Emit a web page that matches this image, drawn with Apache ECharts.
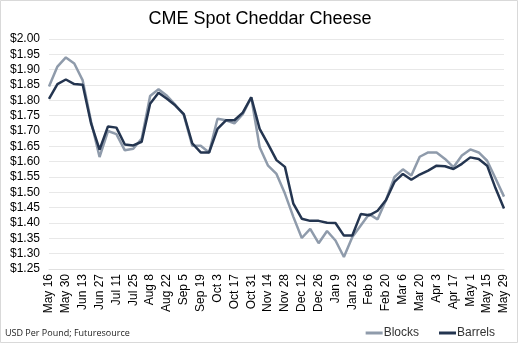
<!DOCTYPE html>
<html>
<head>
<meta charset="utf-8">
<script src="https://cdn.jsdelivr.net/npm/echarts@6/dist/echarts.min.js"></script>
<style>
  html, body { margin: 0; padding: 0; background: #fff; }
  #chartDiv { width: 520px; height: 346px; }
</style>
</head>
<body>
<div id="chartDiv"></div>
<script>
// weekly dates, May 16 .. May 29
var weeks = [
    "May 16", "May 23", "May 30", "Jun 6", "Jun 13", "Jun 20", "Jun 27", "Jul 4", "Jul 11", "Jul 18",
    "Jul 25", "Aug 1", "Aug 8", "Aug 15", "Aug 22", "Aug 29", "Sep 5", "Sep 12", "Sep 19", "Sep 26",
    "Oct 3", "Oct 10", "Oct 17", "Oct 24", "Oct 31", "Nov 7", "Nov 14", "Nov 21", "Nov 28", "Dec 5",
    "Dec 12", "Dec 19", "Dec 26", "Jan 2", "Jan 9", "Jan 16", "Jan 23", "Jan 30", "Feb 6", "Feb 13",
    "Feb 20", "Feb 27", "Mar 6", "Mar 13", "Mar 20", "Mar 27", "Apr 3", "Apr 10", "Apr 17", "Apr 24",
    "May 1", "May 8", "May 15", "May 22", "May 29"
];

var blocks = [
    1.845, 1.910, 1.940, 1.920, 1.865, 1.730, 1.615, 1.700, 1.690, 1.637,
    1.642, 1.675, 1.814, 1.836, 1.815, 1.785, 1.752, 1.652, 1.652, 1.630,
    1.740, 1.735, 1.725, 1.755, 1.810, 1.647, 1.587, 1.560, 1.496, 1.420,
    1.351, 1.381, 1.334, 1.374, 1.343, 1.289, 1.354, 1.392, 1.429, 1.412,
    1.475, 1.550, 1.575, 1.555, 1.616, 1.630, 1.630, 1.609, 1.582, 1.620,
    1.640, 1.630, 1.603, 1.545, 1.486
];

var barrels = [
    1.805, 1.853, 1.868, 1.853, 1.851, 1.724, 1.639, 1.715, 1.711, 1.656,
    1.653, 1.665, 1.789, 1.825, 1.805, 1.783, 1.755, 1.660, 1.630, 1.630,
    1.707, 1.735, 1.735, 1.760, 1.810, 1.707, 1.657, 1.605, 1.583, 1.463,
    1.414, 1.407, 1.407, 1.401, 1.400, 1.359, 1.359, 1.429, 1.425, 1.440,
    1.475, 1.534, 1.560, 1.541, 1.558, 1.571, 1.587, 1.585, 1.576, 1.593,
    1.614, 1.609, 1.587, 1.513, 1.447
];

var BLOCKS_COLOR = "#8f9bab";
var BARRELS_COLOR = "#243550";
var FONT = "Liberation Sans, Arial, sans-serif";

var chartDiv = echarts.init(document.getElementById("chartDiv"));

var option = {
    backgroundColor: "#fff",
    animation: false,
    title: {
        text: "CME Spot Cheddar Cheese",
        left: "center",
        top: 5,
        textStyle: { fontFamily: FONT, fontSize: 18, fontWeight: "normal", color: "#000" }
    },
    legend: {
        right: 20,
        bottom: 2,
        itemWidth: 17,
        itemHeight: 3,
        itemGap: 20,
        icon: "rect",
        textStyle: { fontFamily: FONT, fontSize: 12, color: "#333", padding: [0, 0, 0, -4] },
        data: ["Blocks", "Barrels"]
    },
    grid: { left: 49, right: 16, top: 39, bottom: 77 },
    graphic: [
        {
            type: "rect",
            shape: { x: 0.5, y: 0.5, width: 517, height: 342 },
            style: { fill: "none", stroke: "#d9d9d9", lineWidth: 1 },
            silent: true
        },
        {
            type: "text",
            left: 5,
            top: 329,
            style: { text: "USD Per Pound; Futuresource", font: "9px Open Sans, sans-serif", fill: "#222" }
        }
    ],
    xAxis: {
        type: "category",
        data: weeks,
        boundaryGap: false,
        axisLine: { show: true, lineStyle: { color: "#e0e0e0" } },
        axisTick: { show: false },
        axisLabel: {
            interval: 1,
            rotate: 90,
            margin: 5,
            fontFamily: FONT,
            fontSize: 12,
            color: "#000"
        }
    },
    yAxis: {
        type: "value",
        min: 1.25,
        max: 2.0,
        interval: 0.05,
        axisLine: { show: false },
        axisTick: { show: false },
        splitLine: { lineStyle: { color: "#e8e8e8", width: 1 } },
        axisLabel: {
            margin: 9,
            fontFamily: FONT,
            fontSize: 12,
            color: "#000",
            formatter: function (v) { return "$" + v.toFixed(2); }
        }
    },
    series: [
        {
            name: "Blocks",
            type: "line",
            data: blocks,
            symbol: "none",
            lineStyle: { width: 2.5, color: BLOCKS_COLOR },
            itemStyle: { color: BLOCKS_COLOR }
        },
        {
            name: "Barrels",
            type: "line",
            data: barrels,
            symbol: "none",
            lineStyle: { width: 2.5, color: BARRELS_COLOR },
            itemStyle: { color: BARRELS_COLOR }
        }
    ]
};

chartDiv.setOption(option);
</script>
</body>
</html>
